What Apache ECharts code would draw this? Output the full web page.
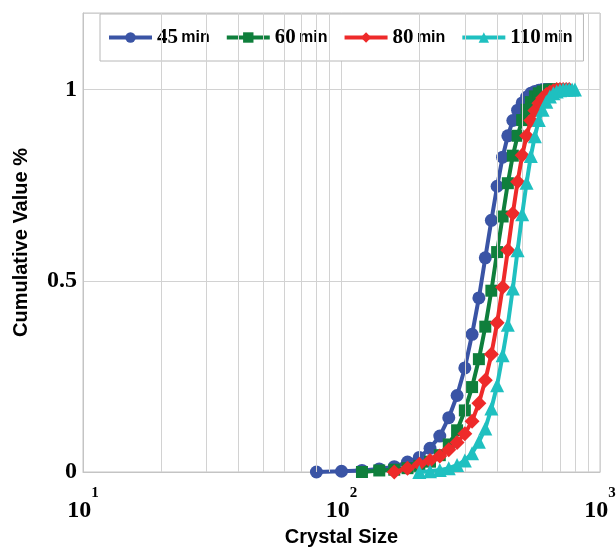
<!DOCTYPE html>
<html><head><meta charset="utf-8">
<script src="https://cdn.jsdelivr.net/npm/echarts@6/dist/echarts.min.js"></script>
<style>html,body{margin:0;padding:0;background:#fff}#c{width:616px;height:547px}</style>
</head><body><div id="c"></div><script>
// ---- data ----
const seriesNames = ['45 min', '60 min', '80 min', '110 min'];
const sizes45 = [80,100,120,140,160,180,200,220,240,260,280,300,320,340,360,380,400,420,440,460,480,500,520,540,560,580,600,620,640];
const cum45   = [0,0.002,0.004,0.008,0.014,0.026,0.038,0.062,0.094,0.142,0.200,0.272,0.360,0.455,0.560,0.658,0.747,0.823,0.879,0.919,0.946,0.965,0.980,0.990,0.995,0.998,1,1,1];
const sizes60 = [120,140,160,180,200,220,240,260,280,300,320,340,360,380,400,420,440,460,480,500,520,540,560,580,600,620,640,660,680];
const cum60   = [0,0.004,0.006,0.010,0.016,0.027,0.044,0.072,0.109,0.161,0.222,0.295,0.380,0.474,0.575,0.668,0.755,0.827,0.879,0.920,0.947,0.967,0.982,0.990,0.995,0.998,1,1,1];
const sizes80 = [160,180,200,220,240,260,280,300,320,340,360,380,400,420,440,460,480,500,520,540,560,580,600,620,640,660,680,700,720,740,760];
const cum80   = [0,0.010,0.020,0.030,0.042,0.058,0.077,0.100,0.133,0.180,0.240,0.308,0.390,0.483,0.580,0.676,0.759,0.828,0.879,0.919,0.945,0.964,0.978,0.987,0.993,0.997,1,1,1,1,1];
const sizes110 = [200,220,240,260,280,300,320,340,360,380,400,420,440,460,480,500,520,540,560,580,600,620,640,660,680,700,720,740,760,780,800];
const cum110   = [0,0.002,0.005,0.010,0.018,0.030,0.049,0.079,0.114,0.166,0.227,0.305,0.385,0.480,0.580,0.674,0.756,0.826,0.878,0.920,0.947,0.968,0.982,0.990,0.995,0.998,1,1,1,1,1];
const minorGridX = [20,30,40,50,60,70,80,90,200,300,400,500,600,700,800,900];
const yTickLabels = [0, 0.5, 1];
// ---- chart ----
const colors = ['#3a54a5', '#0f7f3c', '#ee2a2a', '#1fc0c0'];
const symbols = ['circle', 'rect', 'diamond', 'triangle'];
const symbolSizes = [13, 12, 15, 14];
const sizeSets = [sizes45, sizes60, sizes80, sizes110];
const cumSets = [cum45, cum60, cum80, cum110];
const serif = 'Liberation Serif';
const sans = 'Liberation Sans';

const dataSeries = seriesNames.map((name, i) => ({
  name: name,
  type: 'line',
  data: sizeSets[i].map((x, k) => [x, cumSets[i][k]]),
  symbol: symbols[i],
  symbolSize: symbolSizes[i],
  showAllSymbol: true,
  lineStyle: { color: colors[i], width: 4 },
  itemStyle: { color: colors[i] },
  z: 3 + i
}));

const gridSeries = {
  name: 'grid', type: 'line', data: [], silent: true, z: 1,
  markLine: {
    silent: true, symbol: 'none', animation: false,
    label: { show: false },
    lineStyle: { color: '#d2d2d2', width: 1, type: 'solid' },
    data: minorGridX.map(v => ({ xAxis: v }))
  }
};

const chart = echarts.init(document.getElementById('c'));
chart.setOption({
  animation: false,
  backgroundColor: '#fff',
  color: colors,
  grid: { left: 83, right: 16, top: 13, bottom: 75, show: true, borderColor: '#c4c4c4', borderWidth: 1, outerBoundsMode: 'none', containLabel: false },
  legend: {
    data: seriesNames,
    left: 100, top: 14,
    padding: [13, 11, 13, 7],
    itemGap: 15, itemWidth: 43, itemHeight: 13,
    borderColor: '#b8b8b8', borderWidth: 1, backgroundColor: '#fff',
    lineStyle: { width: 4 },
    formatter: function (name) {
      const p = name.split(' ');
      return '{n|' + p[0] + '} {m|' + p[1] + '}';
    },
    textStyle: {
      rich: {
        n: { fontFamily: serif, fontWeight: 'bold', fontSize: 21, color: '#000' },
        m: { fontFamily: sans, fontWeight: 'bold', fontSize: 16, color: '#000' }
      }
    }
  },
  xAxis: {
    type: 'log', logBase: 10, min: 10, max: 1000,
    name: 'Crystal Size', nameLocation: 'middle', nameGap: 46,
    nameTextStyle: { fontFamily: sans, fontWeight: 'bold', fontSize: 20, color: '#000' },
    axisLine: { show: true, lineStyle: { color: '#c4c4c4' } },
    axisTick: { show: false },
    splitLine: { show: true, lineStyle: { color: '#d2d2d2', width: 1 } },
    axisLabel: {
      margin: 14,
      formatter: function (v) {
        const e = Math.round(Math.log10(v));
        return '{b|10}{s|' + e + '}';
      },
      rich: {
        b: { fontFamily: serif, fontWeight: 'bold', fontSize: 24, color: '#000', padding: [13, 0, 0, 0] },
        s: { fontFamily: serif, fontWeight: 'bold', fontSize: 15, color: '#000', verticalAlign: 'top' }
      }
    }
  },
  yAxis: {
    type: 'value', min: 0, max: 1.2, interval: 0.5,
    name: 'Cumulative Value %', nameLocation: 'middle', nameGap: 52,
    nameTextStyle: { fontFamily: sans, fontWeight: 'bold', fontSize: 20, color: '#000' },
    axisLine: { show: true, lineStyle: { color: '#c4c4c4' } },
    axisTick: { show: false },
    splitLine: { show: true, lineStyle: { color: '#d2d2d2', width: 1 } },
    axisLabel: {
      margin: 6, showMaxLabel: false,
      fontFamily: serif, fontWeight: 'bold', fontSize: 24, color: '#000',
      formatter: function (v) {
        return yTickLabels.indexOf(Math.round(v * 100) / 100) >= 0 ? String(v) : '';
      }
    }
  },
  series: [gridSeries].concat(dataSeries)
});
</script></body></html>
